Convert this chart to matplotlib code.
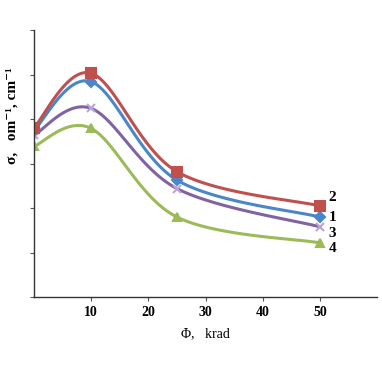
import numpy as np
import matplotlib
matplotlib.use('Agg')
import matplotlib.pyplot as plt

# dose, krad
dose = [0, 10, 25, 50]
# conductivity curves (arbitrary units)
sigma_1 = [3.75, 4.84, 2.63, 1.80]
sigma_2 = [3.81, 5.03, 2.82, 2.05]
sigma_3 = [3.64, 4.24, 2.44, 1.58]
sigma_4 = [3.39, 3.79, 1.80, 1.22]
curve_names = ['1', '2', '3', '4']
name_y = [1.78, 2.25, 1.44, 1.10]
x_ticks = [10, 20, 30, 40, 50]


def smooth(xs, ys, n=40):
    # parametric catmull-rom, similar to excel smoothed lines
    pts = np.column_stack([xs, ys]).astype(float)
    pts = np.vstack([pts[0], pts, pts[-1]])
    out = []
    for i in range(1, len(pts) - 2):
        p0, p1, p2, p3 = pts[i - 1], pts[i], pts[i + 1], pts[i + 2]
        t = np.linspace(0, 1, n)[:, None]
        seg = 0.5 * ((2 * p1) + (-p0 + p2) * t
                     + (2 * p0 - 5 * p1 + 4 * p2 - p3) * t ** 2
                     + (-p0 + 3 * p1 - 3 * p2 + p3) * t ** 3)
        out.append(seg)
    out = np.vstack(out)
    return out[:, 0], out[:, 1]


plt.rcParams['font.family'] = ['Liberation Serif', 'DejaVu Serif']

fig = plt.figure(figsize=(3.82, 3.71), dpi=100)
ax = fig.add_axes([0.089, 0.199, 0.898, 0.72])

series = [
    (sigma_4, '#9BBB59', '^', 6),
    (sigma_3, '#8064A2', 'x', 6),
    (sigma_1, '#4A86C8', 'D', 5),
    (sigma_2, '#C0504D', 's', 7),
]
for ys, col, mk, ms in series:
    sx, sy = smooth(dose, ys)
    ax.plot(sx, sy, color=col, lw=2.2)
    mcol = '#B9A6D6' if mk == 'x' else col
    ax.plot(dose, ys, ls='none', marker=mk, color=mcol, ms=ms, mew=1.5)

for name, y in zip(curve_names, name_y):
    ax.text(51.5, y, name, fontsize=11, fontweight='bold', va='center', ha='left')

ax.set_xlim(0, 60)
ax.set_ylim(0, 6)
ax.set_xticks(x_ticks)
ax.set_xticklabels([str(v) for v in x_ticks], fontsize=10, fontweight='bold')
ax.set_yticks(range(0, 7))
ax.set_yticklabels([])
ax.tick_params(direction='out', length=3, width=0.8, color='#555555')
for side in ['top', 'right']:
    ax.spines[side].set_visible(False)
for side in ['left', 'bottom']:
    ax.spines[side].set_color('#333333')
    ax.spines[side].set_linewidth(1.0)

ax.set_xlabel('Φ,   krad', fontsize=10, labelpad=6)
ax.set_ylabel('σ,   om⁻¹, cm⁻¹', fontsize=11, fontweight='bold', labelpad=6)
ax.yaxis.set_label_coords(-0.045, 0.68)

fig.savefig('out.png', dpi=100)
